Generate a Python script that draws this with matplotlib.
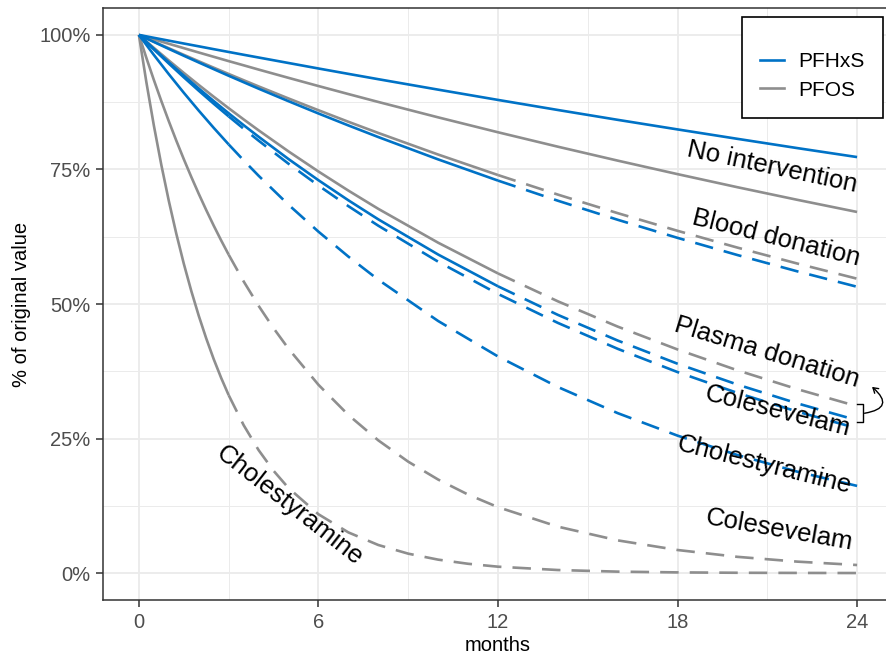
import matplotlib
matplotlib.use("Agg")
import numpy as np
import matplotlib.pyplot as plt
from matplotlib.lines import Line2D
from matplotlib.patches import FancyArrowPatch
from matplotlib.ticker import FuncFormatter, MultipleLocator

plt.rcParams["font.family"] = ["Liberation Sans", "DejaVu Sans"]

# ---------------- data ----------------
months = [0, 0.5, 1, 1.5, 2, 2.5, 3, 3.5, 4, 5, 6, 7, 8, 10, 12, 14, 16, 18, 20, 22, 24]
# finer sampling for the two fast-falling PFOS curves
months_fast = [0, 0.25, 0.5, 0.75, 1, 1.25, 1.5, 1.75, 2, 2.25, 2.5, 2.75, 3, 3.5, 4, 4.5, 5,
               6, 7, 8, 9, 10, 11, 12, 14, 16, 18, 20, 22, 24]

interventions = ["No intervention", "Blood donation", "Plasma donation", "Colesevelam", "Cholestyramine"]
observed_months = [24, 12, 12, 3, 3]

pfhxs_none = [100, 99.46, 98.93, 98.40, 97.88, 97.35, 96.83, 96.31, 95.80, 94.78, 93.76, 92.76, 91.77,
              89.83, 87.92, 86.05, 84.22, 82.44, 80.69, 78.97, 77.30]
pfos_none = [100, 99.17, 98.35, 97.54, 96.73, 95.93, 95.13, 94.35, 93.56, 92.02, 90.50, 89.01, 87.54,
             84.68, 81.91, 79.23, 76.64, 74.13, 71.70, 69.36, 67.10]
pfhxs_blood = [100, 98.69, 97.40, 96.13, 94.88, 93.64, 92.41, 91.21, 90.01, 87.68, 85.40, 83.18, 81.02,
               76.87, 72.93, 69.19, 65.65, 62.29, 59.10, 56.07, 53.20]
pfos_blood = [100, 98.75, 97.52, 96.30, 95.10, 93.91, 92.74, 91.58, 90.43, 88.19, 86.00, 83.86, 81.78,
              77.77, 73.96, 70.33, 66.88, 63.60, 60.48, 57.52, 54.70]
pfhxs_plasma = [100, 97.41, 94.89, 92.43, 90.04, 87.71, 85.44, 83.23, 81.08, 76.93, 73.00, 69.27, 65.73,
                59.19, 53.29, 47.98, 43.21, 38.90, 35.03, 31.54, 28.40]
pfos_plasma = [100, 97.59, 95.24, 92.94, 90.70, 88.51, 86.38, 84.30, 82.27, 78.35, 74.62, 71.07, 67.68,
               61.39, 55.68, 50.50, 45.80, 41.55, 37.68, 34.18, 31.00]
pfhxs_colesevelam = [100, 97.30, 94.68, 92.12, 89.63, 87.21, 84.86, 82.57, 80.35, 76.06, 72.01, 68.18, 64.55,
                     57.86, 51.87, 46.49, 41.67, 37.35, 33.48, 30.01, 26.90]
pfhxs_cholestyramine = [100, 96.28, 92.70, 89.25, 85.93, 82.73, 79.65, 76.69, 73.83, 68.44, 63.44, 58.81, 54.51,
                        46.84, 40.25, 34.58, 29.72, 25.54, 21.94, 18.85, 16.20]
pfos_colesevelam = [100, 95.72, 91.62, 87.70, 83.95, 80.35, 76.91, 73.62, 70.47, 67.45, 64.56, 61.80, 59.16,
                    54.20, 49.66, 45.50, 41.69, 34.99, 29.38, 24.66, 20.70, 17.38, 14.59, 12.25,
                    8.63, 6.08, 4.29, 3.02, 2.13, 1.50]
pfos_cholestyramine = [100, 91.19, 83.15, 75.82, 69.14, 63.05, 57.49, 52.43, 47.81, 43.60, 39.75, 36.25, 33.06,
                       27.49, 22.85, 19.01, 15.80, 10.93, 7.56, 5.22, 3.61, 2.50, 1.73, 1.19,
                       0.57, 0.27, 0.13, 0.06, 0.03, 0.01]

x_ticks = [0, 6, 12, 18, 24]
y_ticks = [0, 25, 50, 75, 100]

# ---------------- styling ----------------
BLUE = "#0072C6"
GREY = "#8E8E8E"
LW = 1.9
DASH = (0, (7.0, 4.2))

fig = plt.figure(figsize=(8.87, 6.58), dpi=100)
W, H = 887, 658
ax = fig.add_axes([103 / W, 1 - 600 / H, (893 - 103) / W, (600 - 8) / H])

ax.set_xlim(-1.2, 25.2)
ax.set_ylim(-5, 105)

pfhxs_series = [(months, pfhxs_none), (months, pfhxs_blood), (months, pfhxs_plasma),
                (months, pfhxs_colesevelam), (months, pfhxs_cholestyramine)]
pfos_series = [(months, pfos_none), (months, pfos_blood), (months, pfos_plasma),
               (months_fast, pfos_colesevelam), (months_fast, pfos_cholestyramine)]

for series, color in ((pfos_series, GREY), (pfhxs_series, BLUE)):
    for (t, values), cut in zip(series, observed_months):
        m = np.array(t)
        v = np.array(values)
        s = m <= cut
        ax.plot(m[s], v[s], color=color, lw=LW, solid_capstyle="butt", solid_joinstyle="round", zorder=3)
        if cut < m.max():
            d = m >= cut
            ax.plot(m[d], v[d], color=color, lw=LW, linestyle=DASH, dash_capstyle="butt", zorder=3)

# grid / axes (theme_bw look)
ax.set_xticks(x_ticks)
ax.set_yticks(y_ticks)
ax.xaxis.set_minor_locator(MultipleLocator(3))
ax.yaxis.set_minor_locator(MultipleLocator(12.5))
ax.grid(which="major", color="#EBEBEB", lw=1.3, zorder=0)
ax.grid(which="minor", color="#EBEBEB", lw=0.7, zorder=0)
ax.set_axisbelow(True)
ax.yaxis.set_major_formatter(FuncFormatter(lambda v, p: f"{v:.0f}%"))
ax.tick_params(which="major", length=5, width=1.1, color="#333333", labelcolor="#4D4D4D",
               labelsize=14.5, pad=4)
ax.tick_params(which="minor", length=0)
for sp in ax.spines.values():
    sp.set_color("#333333")
    sp.set_linewidth(1.1)

ax.set_xlabel("months", fontsize=14.5, color="black", labelpad=3)
ax.set_ylabel("% of original value", fontsize=14.5, color="black", labelpad=6)

# curve labels
label_specs = [
    ("No intervention", 21.16, 75.4, -12),
    ("Blood donation", 21.29, 62.2, -14),
    ("Plasma donation", 20.99, 41.1, -17),
    ("Colesevelam", 21.36, 30.1, -14),
    ("Cholestyramine", 20.92, 20.1, -14),
    ("Colesevelam", 21.42, 8.0, -10),
    ("Cholestyramine", 5.05, 12.6, -38),
]
for txt, x, y, rot in label_specs:
    ax.text(x, y, txt, rotation=rot, rotation_mode="anchor", ha="center", va="center",
            fontsize=18.5, color="black", zorder=5)

# bracket grouping the two plasma-donation end points + curved arrow
y_top = pfos_plasma[-1] + 0.35
y_bot = pfhxs_plasma[-1] - 0.35
xb = months[-1] + 0.2
ax.plot([months[-1], xb, xb, months[-1]], [y_top, y_top, y_bot, y_bot], color="black", lw=1.0,
        clip_on=False, zorder=6)
arrow = FancyArrowPatch((xb + 0.05, (y_top + y_bot) / 2), (xb + 0.3, 34.6),
                        connectionstyle="arc3,rad=1.05", arrowstyle="->,head_length=3.5,head_width=2.2",
                        color="black", lw=1.0, clip_on=False, zorder=6, shrinkA=0, shrinkB=0)
ax.add_patch(arrow)

# legend
handles = [Line2D([], [], color=BLUE, lw=LW), Line2D([], [], color=GREY, lw=LW)]
leg = fig.legend(handles, ["PFHxS", "PFOS"], loc="upper right",
                 bbox_to_anchor=(883 / W, 1 - 17 / H), bbox_transform=fig.transFigure,
                 title=" ", title_fontsize=6, fontsize=15, frameon=True, fancybox=False,
                 framealpha=1, edgecolor="black", handlelength=1.15, handletextpad=0.65,
                 borderpad=0.9, labelspacing=0.45, borderaxespad=0)
leg.get_frame().set_linewidth(1.2)

fig.savefig("out.png", dpi=100)
